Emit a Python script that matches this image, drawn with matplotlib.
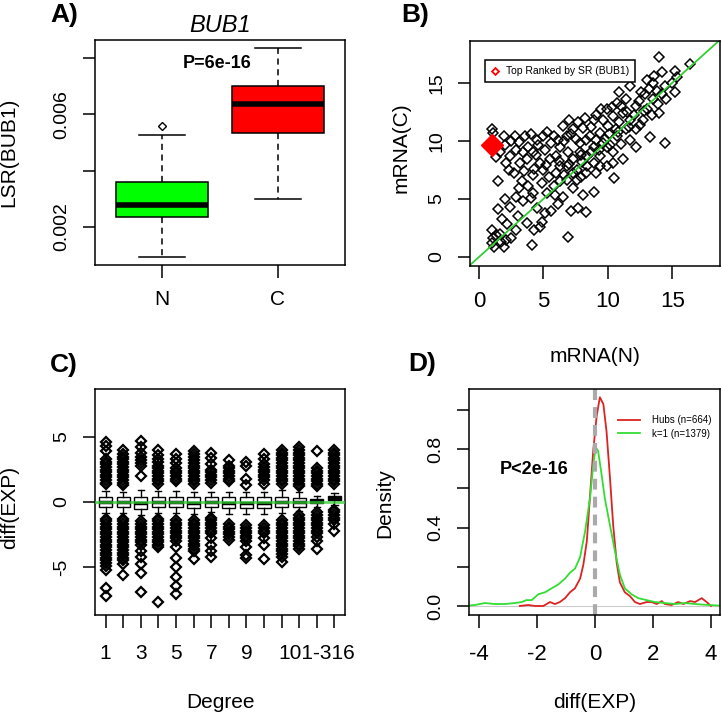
import matplotlib
matplotlib.use('Agg')
import matplotlib.pyplot as plt
from matplotlib.lines import Line2D

plt.rcParams['font.family'] = 'Liberation Sans'
plt.rcParams['axes.unicode_minus'] = False

# ---- A) LSR(BUB1) boxplot, N vs C ----
a_groups = ['N', 'C']
a_q1 = [0.00236, 0.00534]
a_med = [0.00278, 0.00637]
a_q3 = [0.00360, 0.00700]
a_whislo = [0.00093, 0.00299]
a_whishi = [0.00527, 0.00836]
a_fliers = [[0.00559], []]
a_colors = ['#00ff00', '#ff0000']

# ---- B) mRNA(N) vs mRNA(C) ----
mrna_n = [0.98, 1.1, 1.0, 1.6, 1.2, 1.9, 2.1, 2.5, 2.9, 4.1, 4.3, 4.7, 4.9, 3.7, 5.1, 5.6, 6.1,
          1.5, 1.8, 1.5, 2.9, 3.4, 4.0, 4.2, 3.3, 3.8, 4.2, 4.9, 5.0, 5.4, 6.3, 6.5, 7.1, 6.9,
          7.7, 8.3, 8.1, 8.9, 10.5, 7.3, 6.0, 6.8, 7.6, 8.3, 8.9, 7.8, 7.3, 1.0, 1.1, 1.6, 1.9,
          2.1, 2.3, 2.8, 2.9, 3.2, 3.6, 3.8, 4.2, 4.5, 5.0, 5.1, 5.5, 5.8, 6.3, 6.5, 6.8, 7.3,
          7.7, 3.7, 2.4, 2.7, 4.7, 6.0, 6.9, 8.3, 8.9, 9.4, 9.9, 10.0, 10.7, 11.2, 10.9, 11.4,
          11.7, 12.2, 12.6, 13.0, 13.5, 13.6, 14.0, 14.4, 15.2, 15.4, 16.4, 15.2, 14.4, 13.3,
          10.7, 11.2, 12.2, 12.7, 14.0, 9.4, 9.9, 8.9, 10.4, 11.7, 12.2, 7.8, 8.6, 9.1, 9.6,
          10.4, 10.9, 11.7, 13.0, 13.5, 14.5, 15.0, 6.8, 7.6, 8.4, 9.4, 9.9, 10.4, 8.4, 7.3,
          5.8, 5.3, 6.3, 1.3, 2.0, 3.1, 4.0, 4.6, 5.6, 6.6, 7.1, 8.1, 9.1, 11.4, 12.0, 12.9,
          13.8, 14.2, 11.0, 10.1, 9.3, 8.0, 2.5, 3.4, 4.4, 5.3, 6.1, 7.0, 7.5, 8.2, 8.7, 9.5,
          9.8, 10.3, 10.6, 11.0, 11.5, 12.4, 12.8, 13.2, 13.9, 14.2, 6.2, 7.0, 7.9, 8.7, 9.6,
          10.2, 10.8, 11.6, 12.5, 13.4, 5.2, 4.3, 3.5, 6.6, 7.9, 9.1, 3.1, 2.0, 2.4, 5.9, 4.5,
          3.0, 2.2, 1.3, 1.7]
mrna_c = [1.16, 1.6, 2.3, 2.0, 0.87, 0.87, 1.45, 1.6, 2.3, 1.0, 2.3, 2.6, 3.0, 2.9, 3.8, 4.0, 4.6,
          4.1, 3.3, 6.5, 5.2, 4.8, 5.1, 5.5, 6.5, 6.1, 7.1, 6.4, 7.5, 6.9, 6.5, 5.2, 4.0, 1.7,
          4.2, 3.9, 5.3, 5.6, 6.8, 5.9, 7.2, 7.8, 7.5, 7.2, 8.1, 9.0, 8.4, 11.0, 10.7, 9.0, 10.4,
          8.1, 7.5, 10.4, 9.2, 8.1, 10.4, 9.5, 9.0, 10.1, 10.4, 9.2, 8.4, 10.4, 9.5, 11.3, 10.4, 11.0,
          11.6, 8.4, 8.7, 7.2, 8.1, 8.7, 9.0, 10.1, 11.8, 10.7, 12.7, 11.3, 13.3, 12.4, 14.2, 13.6,
          14.7, 13.0, 14.2, 15.2, 13.6, 15.6, 17.2, 14.7, 16.0, 15.5, 16.6, 14.2, 9.8, 10.3,
          10.4, 8.4, 11.0, 11.8, 12.4, 8.7, 9.5, 9.5, 9.0, 10.1, 9.5, 9.8, 10.4, 10.1, 11.8,
          12.1, 11.6, 11.8, 12.7, 15.0, 13.6, 15.0, 6.6, 6.6, 7.8, 7.8, 7.8, 8.1, 8.7, 7.2,
          6.1, 5.5, 7.8, 8.6, 9.6, 9.9, 10.6, 9.6, 9.8, 10.0, 10.6, 11.1, 12.2, 11.0, 12.2, 14.0,
          14.3, 15.9, 9.7, 10.6, 9.2, 8.2, 10.0, 9.0, 8.8, 10.8, 10.1, 11.8, 10.2, 12.0, 11.2, 12.7,
          10.2, 12.9, 11.0, 13.0, 12.5, 13.4, 12.6, 14.5, 13.2, 14.0, 8.3, 8.0, 8.8, 9.0, 9.8,
          9.6, 10.8, 11.2, 11.4, 12.2, 7.9, 7.6, 7.4, 7.1, 6.9, 7.2, 5.9, 5.0, 4.3, 5.3, 4.2,
          3.5, 2.8, 1.9, 1.3]
top_n = [1.0]
top_c = [9.6]

# ---- C) diff(EXP) by degree ----
degree_ticklabels = ['1', '', '3', '', '5', '', '7', '', '9', '', '', '', '101-316', '']
c_q1 = [-0.40, -0.40, -0.55, -0.40, -0.40, -0.45, -0.35, -0.50, -0.50, -0.45, -0.40, -0.35, -0.10, 0.15]
c_med = [0.0, 0.0, -0.05, 0.0, 0.0, -0.05, 0.0, -0.05, -0.05, -0.05, 0.0, 0.0, 0.05, 0.30]
c_q3 = [0.40, 0.40, 0.35, 0.40, 0.40, 0.35, 0.35, 0.35, 0.35, 0.35, 0.40, 0.30, 0.25, 0.50]
c_whislo = [-0.85, -0.85, -1.0, -0.85, -0.85, -0.90, -0.80, -0.95, -0.95, -0.90, -0.85, -0.70, -0.35, -0.20]
c_whishi = [0.85, 0.80, 0.95, 0.85, 0.85, 0.80, 0.80, 0.80, 0.75, 0.80, 0.90, 0.75, 0.45, 0.70]
c_fliers = [
    [4.6, 4.3, 3.9, 3.3, 3.1, 2.9, 2.7, 2.5, 2.3, 2.1, 1.9, 1.7, 1.5, 1.4,
     -1.3, -1.5, -1.7, -1.9, -2.1, -2.3, -2.5, -2.7, -2.9, -3.1, -3.3, -3.5, -3.7, -3.9,
     -4.1, -4.3, -4.5, -4.7, -4.9, -5.2, -6.6, -7.2],
    [4.0, 3.7, 3.5, 3.3, 3.1, 2.9, 2.7, 2.5, 2.3, 2.1, 1.9, 1.7, 1.5, 1.3,
     -1.3, -1.5, -1.7, -1.9, -2.1, -2.3, -2.5, -2.7, -2.9, -3.1, -3.3, -3.5, -3.7, -3.9,
     -4.1, -4.3, -4.5, -4.8, -5.6],
    [4.7, 4.2, 3.8, 3.5, 3.2, 3.0, 2.8, 2.0,
     -1.5, -1.7, -1.9, -2.1, -2.3, -2.5, -2.7, -2.9, -3.1, -3.3, -3.8, -4.2, -4.8, -5.5, -6.9],
    [4.0, 3.6, 3.3, 3.1, 2.8, 2.6, 2.4, 2.2, 2.0, 1.8, 1.6, 1.4,
     -1.3, -1.5, -1.7, -1.9, -2.1, -2.3, -2.5, -2.7, -2.9, -3.1, -3.3, -3.5, -7.7],
    [3.7, 3.3, 3.0, 2.6, 2.4, 2.2, 2.0, 1.8, 1.6,
     -1.4, -1.6, -1.8, -2.0, -2.2, -2.4, -2.6, -2.8, -3.0, -3.5, -4.3, -5.0, -5.8, -6.5, -7.1],
    [3.9, 3.7, 3.5, 3.2, 3.0, 2.8, 2.6, 2.4, 2.2, 2.0, 1.8, 1.6, 1.4,
     -1.4, -1.6, -1.8, -2.0, -2.2, -2.4, -2.6, -2.8, -3.0, -3.2, -3.4, -3.6, -3.8, -4.4],
    [3.8, 3.4, 2.9, 2.5, 2.3, 2.1, 1.9, 1.7, 1.5,
     -1.2, -1.4, -1.6, -1.8, -2.0, -2.2, -2.4, -2.8, -3.3, -3.8, -4.2],
    [3.2, 2.8, 2.6, 2.4, 2.2, 2.0, 1.8, 1.6,
     -1.7, -1.9, -2.1, -2.3, -2.5, -2.7, -2.9],
    [3.1, 2.8, 1.8, 1.3,
     -1.8, -2.0, -2.2, -2.4, -2.6, -2.8, -3.0, -3.5, -4.1, -4.3],
    [3.7, 3.3, 2.9, 2.7, 2.5, 2.3, 2.1, 1.9, 1.7, 1.4,
     -1.8, -2.0, -2.2, -2.4, -2.8, -3.3, -4.4],
    [4.0, 3.8, 3.6, 3.4, 3.2, 3.0, 2.8, 2.6, 2.4, 2.2, 2.0, 1.8, 1.6, 1.4,
     -1.4, -1.6, -1.8, -2.0, -2.2, -2.4, -2.6, -2.8, -3.0, -3.2, -3.4, -3.6, -3.8, -4.0, -4.2, -4.6],
    [4.2, 4.0, 3.8, 3.6, 3.4, 3.2, 3.0, 2.8, 2.6, 2.4, 2.2, 2.0, 1.8, 1.6, 1.4, 1.2,
     -1.0, -1.2, -1.4, -1.6, -1.8, -2.0, -2.2, -2.4, -2.6, -2.8, -3.0, -3.2, -3.4, -3.6],
    [3.9, 2.6, 2.4, 2.2, 2.0, 1.8, 1.6, 1.4, 1.2,
     -0.8, -1.0, -1.2, -1.4, -1.6, -1.8, -2.0, -2.2, -2.4, -2.7, -3.0, -3.6],
    [4.0, 3.8, 3.6, 3.4, 3.2, 3.0, 2.8, 2.6, 2.4, 2.2, 2.0, 1.8, 1.6, 1.4,
     -0.6, -0.8, -1.0, -1.2, -1.4, -1.7, -2.2],
]

# ---- D) density of diff(EXP) ----
hubs_x = [-2.59, -2.3, -2.07, -1.78, -1.55, -1.38, -1.21, -1.03, -0.86, -0.69, -0.51, -0.40,
          -0.28, -0.17, -0.06, 0.06, 0.17, 0.29, 0.40, 0.52, 0.63, 0.75, 0.86, 1.03, 1.21,
          1.38, 1.55, 1.78, 1.95, 2.13, 2.30, 2.41, 2.64, 2.87, 3.05, 3.28, 3.45, 3.68, 3.85, 4.0]
hubs_y = [0.0, 0.005, 0.0, 0.0, 0.02, 0.01, 0.02, 0.04, 0.07, 0.09, 0.14, 0.21,
          0.33, 0.56, 0.79, 0.97, 1.065, 1.03, 0.89, 0.65, 0.41, 0.22, 0.12, 0.07, 0.05,
          0.02, 0.01, 0.02, 0.02, 0.01, 0.025, 0.01, 0.005, 0.02, 0.01, 0.025, 0.02, 0.04, 0.02, 0.0]
k1_x = [-4.48, -4.14, -3.79, -3.45, -3.10, -2.76, -2.53, -2.36, -2.18, -1.95, -1.72, -1.49,
        -1.26, -1.03, -0.86, -0.69, -0.51, -0.34, -0.17, -0.06, 0.03, 0.11, 0.23, 0.34, 0.52,
        0.69, 0.86, 1.03, 1.26, 1.49, 1.78, 2.07, 2.41, 2.76, 3.10, 3.45, 3.91, 4.3]
k1_y = [0.0, 0.005, 0.015, 0.01, 0.01, 0.015, 0.02, 0.03, 0.03, 0.06, 0.07, 0.09,
        0.11, 0.14, 0.17, 0.19, 0.25, 0.38, 0.55, 0.72, 0.81, 0.79, 0.67, 0.55, 0.41,
        0.28, 0.16, 0.09, 0.06, 0.04, 0.03, 0.02, 0.015, 0.01, 0.015, 0.01, 0.005, 0.002]

W, H = 721, 714


def axes_rect(x0, y0, x1, y1):
    return [x0 / W, 1 - y1 / H, (x1 - x0) / W, (y1 - y0) / H]


def style_axes(ax):
    for s in ax.spines.values():
        s.set_linewidth(1.1)
    ax.tick_params(direction='out', length=9, width=1.1)
    ax.tick_params(axis='x', labelsize=15, pad=9)
    ax.tick_params(axis='y', labelsize=14, pad=9, labelrotation=90)
    for lab in ax.get_yticklabels():
        lab.set_va('center')


fig = plt.figure(figsize=(W / 100, H / 100), dpi=100)

# ---------- A ----------
ax = fig.add_axes(axes_rect(95, 40, 345, 265))
stats = []
for i in range(len(a_groups)):
    stats.append(dict(med=a_med[i], q1=a_q1[i], q3=a_q3[i], whislo=a_whislo[i],
                      whishi=a_whishi[i], fliers=a_fliers[i]))
bp = ax.bxp(stats, positions=[1, 2], widths=0.8, capwidths=0.4, patch_artist=True,
            boxprops=dict(edgecolor='black', linewidth=1.1),
            medianprops=dict(color='black', linewidth=4),
            whiskerprops=dict(color='black', linewidth=1.1, linestyle=(0, (4, 3))),
            capprops=dict(color='black', linewidth=1.1),
            flierprops=dict(marker='D', markerfacecolor='none', markeredgecolor='black',
                            markersize=4.5, markeredgewidth=1.0))
for patch, col in zip(bp['boxes'], a_colors):
    patch.set_facecolor(col)
ax.set_xlim(0.42, 2.58)
ax.set_ylim(0.00065, 0.00864)
ax.set_xticks([1, 2])
ax.set_xticklabels(a_groups)
ax.set_yticks([0.002, 0.004, 0.006, 0.008])
ax.set_yticklabels(['0.002', '', '0.006', ''])
style_axes(ax)
ax.set_ylabel('LSR(BUB1)', fontsize=15, va='center')
ax.yaxis.set_label_coords(-0.344, 0.5)
ax.set_title('BUB1', fontsize=17, style='italic', pad=6)
ax.text(0.49, 0.895, 'P=6e-16', transform=ax.transAxes, fontsize=13, fontweight='bold',
        ha='center', va='center')

# ---------- B ----------
ax = fig.add_axes(axes_rect(470, 41, 720, 266))
ax.plot(mrna_n, mrna_c, ls='none', marker='D', markerfacecolor='none', markeredgecolor='black',
        markersize=5.6, markeredgewidth=1.1)
ax.plot(top_n, top_c, ls='none', marker='D', color='red', markersize=11)
ax.axline((0, 0), slope=1, color='#33cc33', linewidth=1.3)
ax.set_xlim(-0.7, 18.7)
ax.set_ylim(-0.78, 18.6)
ax.set_xticks([0, 5, 10, 15])
ax.set_yticks([0, 5, 10, 15])
style_axes(ax)
ax.tick_params(axis='x', labelsize=16)
ax.set_xlabel('mRNA(N)', fontsize=15, va='center')
ax.xaxis.set_label_coords(0.5, -0.404)
ax.set_ylabel('mRNA(C)', fontsize=15, va='center')
ax.yaxis.set_label_coords(-0.276, 0.524)
h = Line2D([], [], ls='none', marker='D', markerfacecolor='none', markeredgecolor='red',
           markersize=3.5, markeredgewidth=1.3)
leg = ax.legend([h], ['Top Ranked by SR (BUB1)'], loc='upper left', bbox_to_anchor=(0.06, 0.916),
                borderaxespad=0, fancybox=False, edgecolor='black', framealpha=1, fontsize=7.5,
                handlelength=0.8, handletextpad=0.6, borderpad=0.6)
leg.get_frame().set_linewidth(1.1)

# ---------- C ----------
ax = fig.add_axes(axes_rect(95, 389, 345, 615))
stats = []
for i in range(len(degree_ticklabels)):
    stats.append(dict(med=c_med[i], q1=c_q1[i], q3=c_q3[i], whislo=c_whislo[i],
                      whishi=c_whishi[i], fliers=c_fliers[i]))
positions = list(range(1, len(degree_ticklabels) + 1))
ax.bxp(stats, positions=positions, widths=0.75, capwidths=0.35, patch_artist=True,
       boxprops=dict(facecolor='white', edgecolor='black', linewidth=1.0),
       medianprops=dict(color='black', linewidth=2.5),
       whiskerprops=dict(color='black', linewidth=1.0),
       capprops=dict(color='black', linewidth=1.0),
       flierprops=dict(marker='D', markerfacecolor='none', markeredgecolor='black',
                       markersize=5.0, markeredgewidth=1.6))
ax.axhline(0, color='#33cc33', linewidth=2, alpha=0.75, zorder=5)
ax.set_xlim(0.4, 14.6)
ax.set_ylim(-8.7, 8.7)
ax.set_xticks(positions)
ax.set_xticklabels(degree_ticklabels)
ax.set_yticks([-5, 0, 5])
style_axes(ax)
ax.tick_params(axis='x', pad=12)
ax.set_xlabel('Degree', fontsize=15, va='center')
ax.xaxis.set_label_coords(0.5, -0.385)
ax.set_ylabel('diff(EXP)', fontsize=15, va='center')
ax.yaxis.set_label_coords(-0.34, 0.478)

# ---------- D ----------
ax = fig.add_axes(axes_rect(469, 389, 720, 615))
ax.axhline(0, color='#cccccc', linewidth=0.8)
ax.plot(hubs_x, hubs_y, color='#dd2222', linewidth=1.3, label='Hubs (n=664)')
ax.plot(k1_x, k1_y, color='#33dd33', linewidth=1.3, label='k=1 (n=1379)')
ax.axvline(0, color='#aaaaaa', linewidth=3, linestyle=(0, (2.6, 1.7)))
ax.set_xlim(-4.34, 4.31)
ax.set_ylim(-0.046, 1.107)
ax.set_xticks([-4, -2, 0, 2, 4])
ax.set_yticks([0.0, 0.2, 0.4, 0.6, 0.8, 1.0])
ax.set_yticklabels(['0.0', '', '0.4', '', '0.8', ''])
style_axes(ax)
ax.tick_params(axis='x', labelsize=16, pad=12)
ax.set_xlabel('diff(EXP)', fontsize=15, va='center')
ax.xaxis.set_label_coords(0.5, -0.385)
ax.set_ylabel('Density', fontsize=15, va='center')
ax.yaxis.set_label_coords(-0.335, 0.496)
ax.legend(loc='upper left', bbox_to_anchor=(0.58, 0.9), frameon=False, fontsize=7,
          handlelength=2.2, handletextpad=1.3, labelspacing=0.35, borderaxespad=0)
ax.text(0.26, 0.644, 'P<2e-16', transform=ax.transAxes, fontsize=13, fontweight='bold',
        ha='center', va='center')

# panel letters
for lab, x, y in [('A)', 64, 15), ('B)', 415, 15), ('C)', 64, 365), ('D)', 422, 364)]:
    fig.text(x / W, 1 - y / H, lab, fontsize=19, fontweight='bold', ha='center', va='center')

plt.savefig('out.png', dpi=100)
